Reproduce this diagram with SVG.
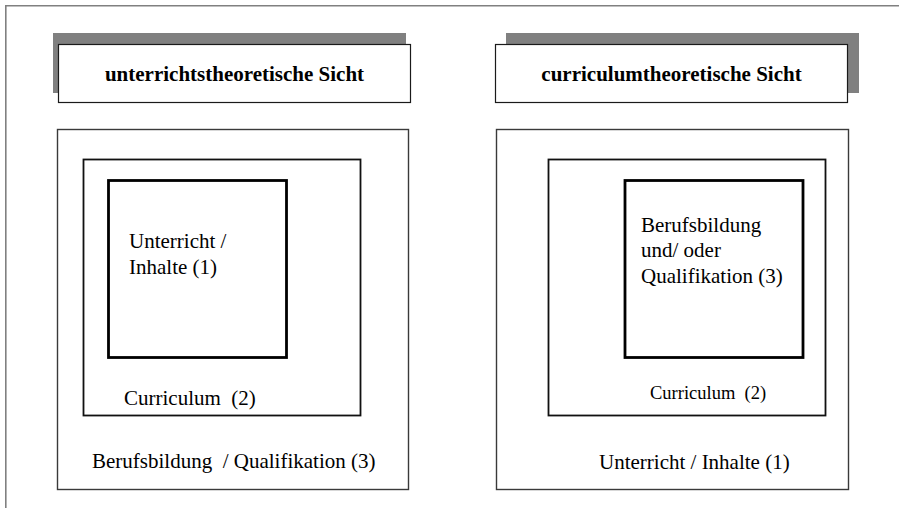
<svg xmlns="http://www.w3.org/2000/svg" width="899" height="508" viewBox="0 0 899 508" xml:space="preserve">
<style>
.frame{fill:none;stroke:#808080;stroke-width:1.6}
.shadow{fill:#808080;stroke:none}
.head{fill:#fff;stroke:#1a1a1a;stroke-width:1.2}
.outer{fill:#fff;stroke:#3a3a3a;stroke-width:1.4}
.mid{fill:none;stroke:#111;stroke-width:1.8}
.inner{fill:none;stroke:#000;stroke-width:2.8}
text{font-family:"Liberation Serif","Times New Roman",serif;fill:#000;font-size:21px;white-space:pre}
.bold{font-weight:bold;text-anchor:middle}
.small{font-size:18.5px}
</style>
<rect width="899" height="508" fill="#fff"/>
<path class="frame" d="M5.8,508 V5.8 H899"/>
<g id="header-left">
<rect class="shadow" x="53" y="33" width="353" height="60"/>
<rect class="head" x="58.5" y="44.5" width="352" height="58"/>
<text class="bold" x="234.5" y="81">unterrichtstheoretische Sicht</text>
</g>
<g id="header-right">
<rect class="shadow" x="506" y="33" width="353" height="60"/>
<rect class="head" x="495.5" y="44.5" width="352" height="58"/>
<text class="bold" x="671.5" y="81">curriculumtheoretische Sicht</text>
</g>
<g id="left-outer">
<rect class="outer" x="57.5" y="129.5" width="351" height="360"/>
<text x="92" y="468">Berufsbildung  / Qualifikation (3)</text>
</g>
<g id="left-middle">
<rect class="mid" x="83.5" y="159.5" width="277" height="256"/>
<text x="124" y="405">Curriculum  (2)</text>
</g>
<g id="left-inner">
<rect class="inner" x="108.5" y="180.5" width="178" height="177"/>
<text x="129" y="248">Unterricht /</text>
<text x="129" y="274">Inhalte (1)</text>
</g>
<g id="right-outer">
<rect class="outer" x="496.5" y="129.5" width="352" height="360"/>
<text x="599" y="469">Unterricht / Inhalte (1)</text>
</g>
<g id="right-middle">
<rect class="mid" x="548.5" y="159.5" width="277" height="256"/>
<text class="small" x="650" y="399">Curriculum  (2)</text>
</g>
<g id="right-inner">
<rect class="inner" x="625" y="180.5" width="178" height="177"/>
<text x="641" y="232">Berufsbildung</text>
<text x="641" y="257">und/ oder</text>
<text x="641" y="283">Qualifikation (3)</text>
</g>
<g id="connectors"></g>
</svg>
